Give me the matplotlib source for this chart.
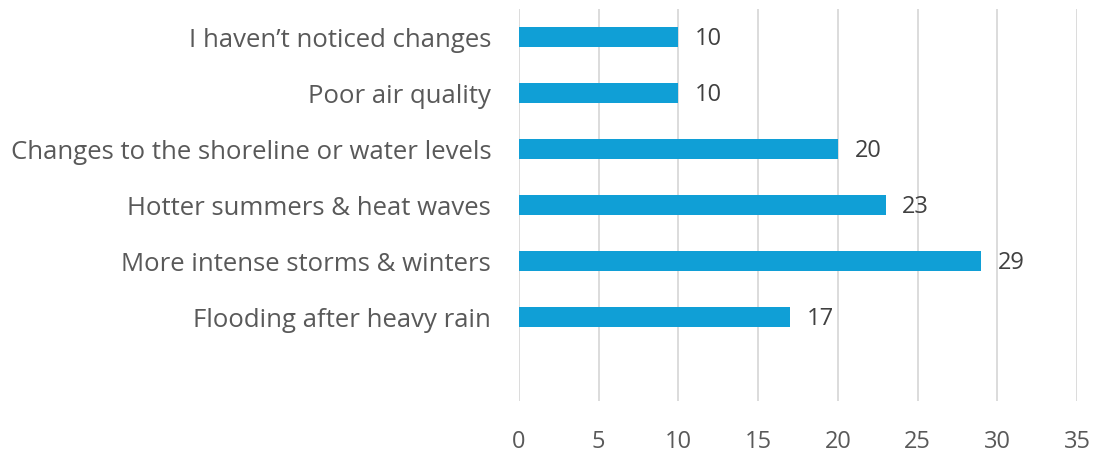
import matplotlib.pyplot as plt

categories = ["I haven\u2019t noticed changes", "Poor air quality",
              "Changes to the shoreline or water levels", "Hotter summers & heat waves",
              "More intense storms & winters", "Flooding after heavy rain"]
values = [10, 10, 20, 23, 29, 17]
xticks = [0, 5, 10, 15, 20, 25, 30, 35]

plt.rcParams['font.family'] = ['Open Sans', 'DejaVu Sans']

fig = plt.figure(figsize=(10.94, 4.53), dpi=100)
ax = fig.add_axes([519 / 1094, 1 - 401 / 453, (1077 - 519) / 1094, (401 - 9) / 453])

ypos = list(range(len(categories)))
ax.barh(ypos, values, height=0.36, color='#109FD6', zorder=3)
for y, v in zip(ypos, values):
    ax.annotate(str(v), (v, y), xytext=(12, -1.5), textcoords='offset points',
                va='center', ha='left', fontsize=17, color='#404040')

ax.set_xlim(0, 35)
ax.set_ylim(6.5, -0.5)
ax.set_xticks(xticks)
ax.set_yticks(ypos)
ax.set_yticklabels(categories, fontsize=18.5)
ax.tick_params(axis='both', length=0, colors='#595959')
ax.tick_params(axis='x', labelsize=17, pad=21)
ax.tick_params(axis='y', pad=20)
ax.grid(axis='x', color='#D9D9D9', linewidth=1.3, zorder=0)
for s in ax.spines.values():
    s.set_visible(False)

fig.savefig('out.png', dpi=100)
